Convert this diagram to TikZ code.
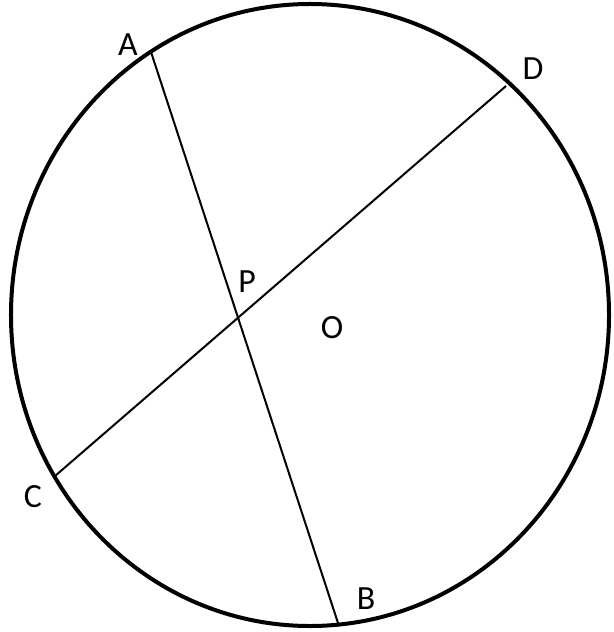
\documentclass[tikz,border=0pt]{standalone}
\usepackage{fontspec}
\setmainfont{Carlito}
\usetikzlibrary{positioning}

\begin{document}
\begin{tikzpicture}[x=1bp,y=-1bp,rim/.style={line width=4bp},chord/.style={line width=2bp},pt label/.style={font=\fontsize{34}{34}\selectfont,inner sep=0pt}]
                        \useasboundingbox (0,0) rectangle (614,632);

                        % the circle
                        \coordinate (o) at (310,315);
                        \draw[rim] (o) ellipse [x radius=299bp, y radius=311bp];

                        % ends of the chords
                        \coordinate (a) at (151,52);
                        \coordinate (b) at (339,626);
                        \coordinate (c) at (55,476);
                        \coordinate (d) at (506,86);
                        \coordinate (p) at (intersection of a--b and c--d);

                        \node[pt label] (A) at (128,45) {A};
                        \node[pt label] (B) at (366,599) {B};
                        \node[pt label] (C) at (33,497) {C};
                        \node[pt label] (D) at (533,69) {D};
                        \node[pt label] (P) at (247,282) {P};
                        \node[pt label] (O) at (332,328) {O};

                        \path[chord]
                                (a) edge (b)
                                (c) edge (d)
                            ;
                    \end{tikzpicture}
\end{document}
